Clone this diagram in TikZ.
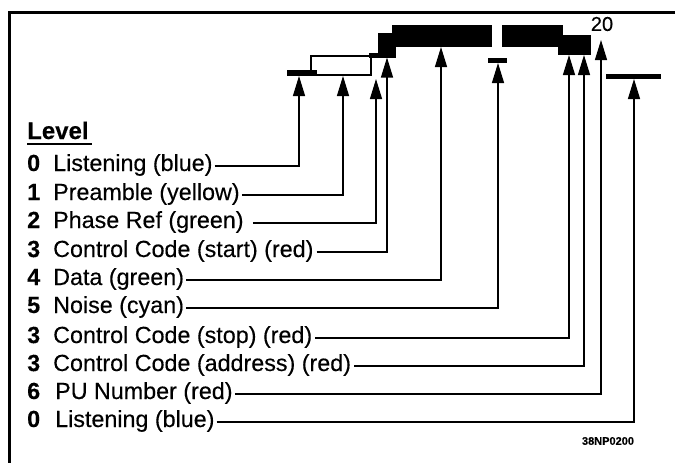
\documentclass[tikz,border=0pt]{standalone}
\usepackage{fontspec}
\setmainfont{Liberation Sans}[FakeBold=0.3]
\usetikzlibrary{arrows.meta}
\begin{document}
\begin{tikzpicture}[x=1pt,y=-1pt,
  lbl/.style={inner sep=0pt,anchor=base west,font=\fontsize{23.3}{26}\selectfont},
  num/.style={inner sep=0pt,anchor=base west,font=\fontsize{23.3}{26}\selectfont\bfseries},
  blk/.style={fill=black},
  outl/.style={draw=black,line width=1.5pt},
  conn/.style={line width=1.3pt,-{Triangle[length=20pt,width=12pt]}}]
\useasboundingbox (0,0) rectangle (675,463);
% frame
\draw[line width=3pt] (9.5,470) -- (9.5,12.5) -- (690,12.5);
% signal levels
\draw[outl] (311,56) rectangle (371,75);
\path[blk] (287,70) rectangle (317,76);
\path[blk] (369,53) rectangle (379,57.5);
\path[blk] (378,33) rectangle (396,57.5);
\path[blk] (392,25) rectangle (492,47);
\path[blk] (502,25) rectangle (563,47);
\path[blk] (558,35) rectangle (591,55);
\path[blk] (488,58) rectangle (507,63);
\path[blk] (606,74) rectangle (661,79);
\node[font=\fontsize{20}{22}\selectfont,inner sep=0pt] (twenty) at (602,24) {20};
% tip coordinates
\coordinate (tip0) at (299,76);
\coordinate (tip1) at (343,76);
\coordinate (tip2) at (376,79);
\coordinate (tip3) at (387,57.5);
\coordinate (tip4) at (441,47);
\coordinate (tip5) at (498,63);
\coordinate (tip6) at (569,55);
\coordinate (tip7) at (584,55);
\coordinate (tip8) at (601,40);
\coordinate (tip9) at (634,79);
% heading
\node[num,font=\fontsize{24}{26}\selectfont\bfseries] (level) at (27,139) {Level};
\draw[line width=2pt] (27,144) -- (92,144);
% rows
\node[num] (n0) at (27,171) {0}; \node[lbl] (t0) at (53,171) {Listening (blue)};
\node[num] (n1) at (27,200) {1}; \node[lbl] (t1) at (53,200) {Preamble (yellow)};
\node[num] (n2) at (27,228) {2}; \node[lbl] (t2) at (53,228) {Phase Ref (green)};
\node[num] (n3) at (27,257) {3}; \node[lbl] (t3) at (53,257) {Control Code (start) (red)};
\node[num] (n4) at (27,285) {4}; \node[lbl] (t4) at (53,285) {Data (green)};
\node[num] (n5) at (27,313) {5}; \node[lbl] (t5) at (53,313) {Noise (cyan)};
\node[num] (n6) at (27,343) {3}; \node[lbl] (t6) at (53,343) {Control Code (stop) (red)};
\node[num] (n7) at (27,371) {3}; \node[lbl] (t7) at (53,371) {Control Code (address) (red)};
\node[num] (n8) at (27,399) {6}; \node[lbl] (t8) at (55,399) {PU Number (red)};
\node[num] (n9) at (27,427) {0}; \node[lbl] (t9) at (55,427) {Listening (blue)};
% connectors
\draw[conn] ([xshift=2pt,yshift=5pt]t0.base east) -| (tip0);
\draw[conn] ([xshift=2pt,yshift=5pt]t1.base east) -| (tip1);
\draw[conn] ([xshift=9pt,yshift=5pt]t2.base east) -| (tip2);
\draw[conn] ([xshift=3pt,yshift=5pt]t3.base east) -| (tip3);
\draw[conn] ([xshift=2pt,yshift=5pt]t4.base east) -| (tip4);
\draw[conn] ([xshift=2pt,yshift=5pt]t5.base east) -| (tip5);
\draw[conn] ([xshift=3pt,yshift=5pt]t6.base east) -| (tip6);
\draw[conn] ([xshift=3pt,yshift=5pt]t7.base east) -| (tip7);
\draw[conn] ([xshift=2pt,yshift=5pt]t8.base east) -| (tip8);
\draw[conn] ([xshift=2pt,yshift=5pt]t9.base east) -| (tip9);
\node[font=\fontsize{11}{12}\selectfont\bfseries,inner sep=0pt] (code) at (608,441) {38NP0200};
\end{tikzpicture}
\end{document}
